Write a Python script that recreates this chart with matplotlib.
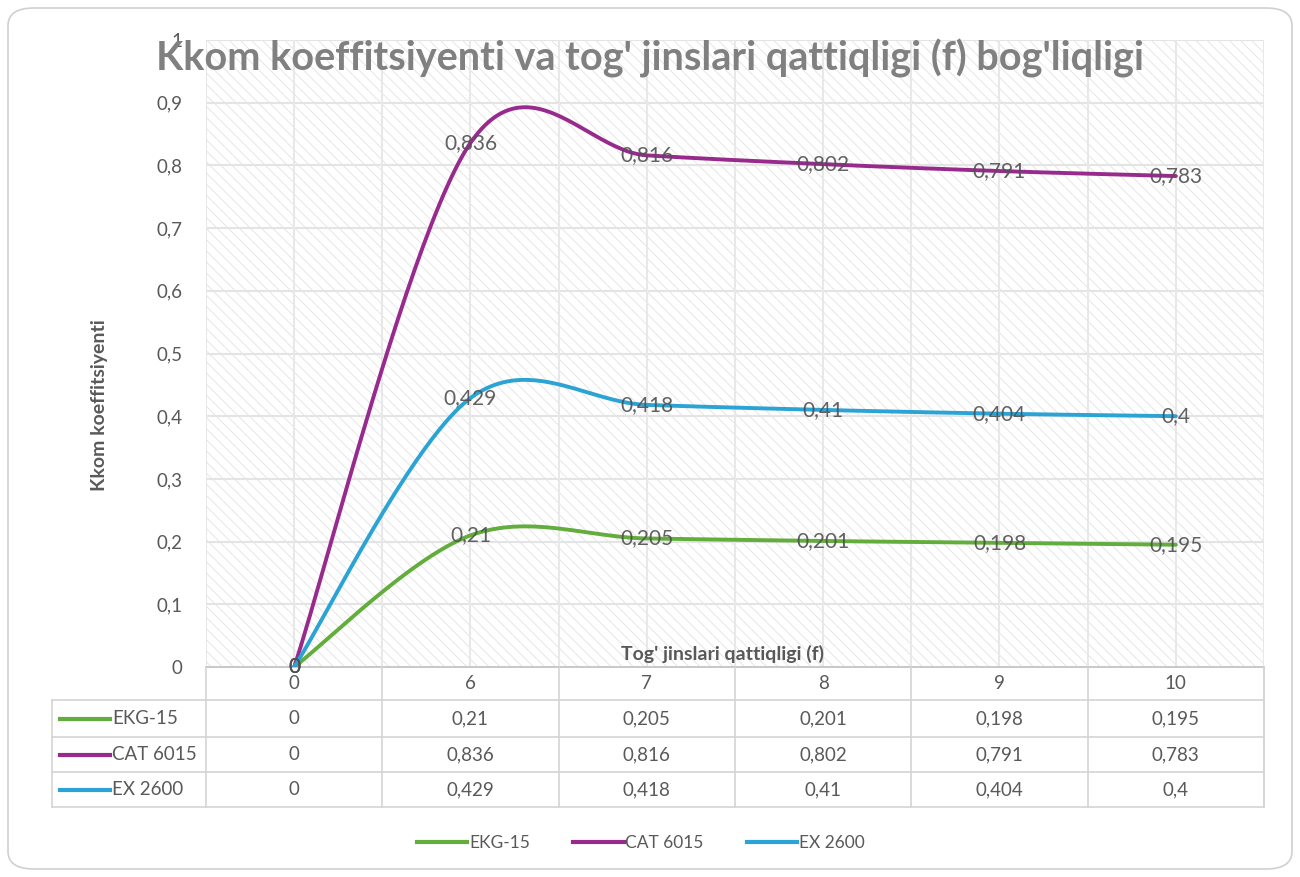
import numpy as np
import matplotlib
matplotlib.use("Agg")
import matplotlib.pyplot as plt
from matplotlib.patches import Rectangle, FancyBboxPatch
from matplotlib.lines import Line2D

plt.rcParams['font.family'] = ['Lato', 'DejaVu Sans']
plt.rcParams['hatch.linewidth'] = 0.6
plt.rcParams['hatch.color'] = '#e2e2e2'

categories = ['0', '6', '7', '8', '9', '10']
series_names = ['EKG-15', 'CAT 6015', 'EX 2600']
ekg15 = [0, 0.21, 0.205, 0.201, 0.198, 0.195]
cat6015 = [0, 0.836, 0.816, 0.802, 0.791, 0.783]
ex2600 = [0, 0.429, 0.418, 0.41, 0.404, 0.4]
y_ticks = [0, 0.1, 0.2, 0.3, 0.4, 0.5, 0.6, 0.7, 0.8, 0.9, 1.0]

series = [ekg15, cat6015, ex2600]
colors = ['#62ad3c', '#982a8e', '#2ba3d5']
text_gray = '#595959'


def fmt(v):
    s = f"{v:g}"
    return s.replace('.', ',')


def smooth(xs, ys, n=50):
    # Catmull-Rom style smoothing, similar to Excel's smoothed line
    P = np.column_stack([xs, ys]).astype(float)
    m = np.zeros_like(P)
    m[1:-1] = (P[2:] - P[:-2]) / 2
    m[0] = (P[1] - P[0]) / 2
    m[-1] = (P[-1] - P[-2]) / 2
    out = []
    t = np.linspace(0, 1, n)
    h00 = 2 * t**3 - 3 * t**2 + 1
    h10 = t**3 - 2 * t**2 + t
    h01 = -2 * t**3 + 3 * t**2
    h11 = t**3 - t**2
    for i in range(len(P) - 1):
        seg = (h00[:, None] * P[i] + h10[:, None] * m[i]
               + h01[:, None] * P[i + 1] + h11[:, None] * m[i + 1])
        out.append(seg)
    out = np.vstack(out)
    return out[:, 0], out[:, 1]


fig = plt.figure(figsize=(13, 8.77), dpi=100)

# outer rounded frame
frame = FancyBboxPatch((8 / 1300, 8 / 877), 1284 / 1300, 861 / 877,
                       boxstyle="round,pad=0,rounding_size=0.02",
                       transform=fig.transFigure, facecolor='white',
                       edgecolor='#d0d0d0', linewidth=1.2, zorder=-5)
fig.patches.append(frame)

ax = fig.add_axes([206 / 1300, 1 - 667 / 877, 1058 / 1300, 627 / 877])
ax.set_facecolor('none')
x = np.arange(len(categories))
ax.set_xlim(-0.5, len(categories) - 0.5)
ax.set_ylim(0, 1)

ax.add_patch(Rectangle((0, 0), 1, 1, transform=ax.transAxes, facecolor='white',
                       edgecolor='#e2e2e2', hatch='\\\\\\', linewidth=0, zorder=0))

for s in ax.spines.values():
    s.set_visible(False)

ax.set_yticks(y_ticks)
ax.set_yticklabels([fmt(v) for v in y_ticks])
ax.tick_params(axis='y', length=0, pad=17, labelsize=13.5, labelcolor=text_gray)
ax.set_xticks([])
for v in y_ticks[1:]:
    ax.axhline(v, color='#e4e4e4', lw=1.5, zorder=1)
for xv in np.arange(-0.5, len(categories), 0.5):
    ax.axvline(xv, color='#e8e8e8', lw=1.5, zorder=1)
ax.axhline(0, color='#bfbfbf', lw=1.2, zorder=2, clip_on=False)

for vals, c, name in zip(series, colors, series_names):
    sx, sy = smooth(x, vals)
    ax.plot(sx, sy, color=c, lw=2.8, zorder=3, solid_capstyle='round', label=name)
    for xi, v in zip(x, vals):
        ax.text(xi, v, fmt(v), ha='center', va='center', fontsize=15,
                color='#505050', alpha=0.9, zorder=4)

fig.text(0.5, 1 - 58 / 877, "Kkom koeffitsiyenti va tog' jinslari qattiqligi (f) bog'liqligi",
         ha='center', va='center', fontsize=28.5, fontweight='bold', color='#808080')
ax.text(0.488, 4 / 627, "Tog' jinslari qattiqligi (f)", transform=ax.transAxes,
        ha='center', va='bottom', fontsize=14, fontweight='bold', color=text_gray)
fig.text(100 / 1300, 1 - 405 / 877, "Kkom koeffitsiyenti", rotation=90,
         ha='center', va='center', fontsize=14, fontweight='bold', color=text_gray)

# data table below the plot
trans = ax.get_xaxis_transform()
px = 1 / 627
row_edges = [0, -33 * px, -70 * px, -105 * px, -140 * px]
col_px = 1058 / len(categories)
left = -0.5 - 154 / col_px
lc = '#d4d4d4'
for xi, lab in zip(x, categories):
    ax.text(xi, (row_edges[0] + row_edges[1]) / 2, lab, transform=trans,
            ha='center', va='center', fontsize=13.5, color=text_gray, clip_on=False)
for r, (vals, c, name) in enumerate(zip(series, colors, series_names)):
    yc = (row_edges[r + 1] + row_edges[r + 2]) / 2
    for xi, v in zip(x, vals):
        ax.text(xi, yc, fmt(v), transform=trans, ha='center', va='center',
                fontsize=13.5, color=text_gray, clip_on=False)
    ax.add_line(Line2D([left + 8 / col_px, left + 58 / col_px], [yc, yc], transform=trans,
                       color=c, lw=3, clip_on=False))
    ax.text(left + 60 / col_px, yc, name, transform=trans, ha='left', va='center',
            fontsize=13.5, color=text_gray, clip_on=False)
for ye in row_edges[1:]:
    ax.add_line(Line2D([left, len(categories) - 0.5], [ye, ye], transform=trans,
                       color=lc, lw=1.2, clip_on=False))
for xe in np.arange(-0.5, len(categories), 1.0):
    ax.add_line(Line2D([xe, xe], [row_edges[0], row_edges[-1]], transform=trans,
                       color=lc, lw=1.2, clip_on=False))
ax.add_line(Line2D([len(categories) - 0.5] * 2, [row_edges[0], row_edges[-1]],
                   transform=trans, color=lc, lw=1.2, clip_on=False))
ax.add_line(Line2D([left, left], [row_edges[1], row_edges[-1]], transform=trans,
                   color=lc, lw=1.2, clip_on=False))

handles = [Line2D([], [], color=c, lw=3) for c in colors]
fig.legend(handles, series_names, loc='center', bbox_to_anchor=(0.493, 1 - 843 / 877),
           ncol=3, frameon=False, fontsize=12.5, handlelength=2.9, handletextpad=0.1,
           columnspacing=2.5, labelcolor=text_gray)

fig.savefig("out.png", dpi=100)
